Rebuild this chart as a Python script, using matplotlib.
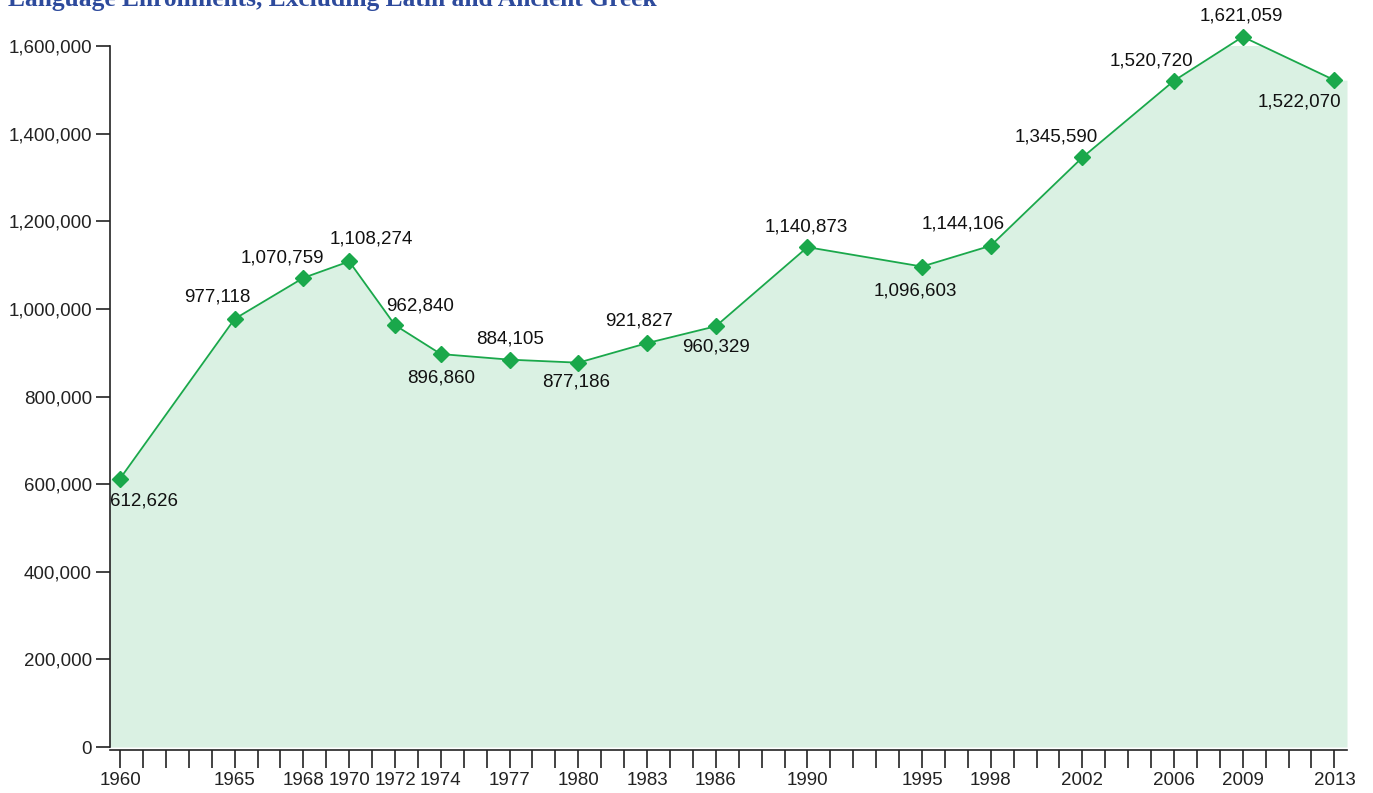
import numpy as np
import matplotlib
matplotlib.use('Agg')
import matplotlib.pyplot as plt
from matplotlib.ticker import FuncFormatter

#Data
years = [1960, 1965, 1968, 1970, 1972, 1974, 1977, 1980, 1983, 1986,
         1990, 1995, 1998, 2002, 2006, 2009, 2013]
enrollments = [612626, 977118, 1070759, 1108274, 962840, 896860, 884105, 877186,
               921827, 960329, 1140873, 1096603, 1144106, 1345590, 1520720,
               1621059, 1522070]
yticks = [0, 200000, 400000, 600000, 800000, 1000000, 1200000, 1400000, 1600000]
title = 'Language Enrollments, Excluding Latin and Ancient Greek'

#label offsets in pixels (dx, dy) relative to each point
offsets = [(24, -22), (-17, 22), (-21, 20), (22, 22), (25, 19), (0, -24), (0, 21),
           (-2, -19), (-8, 22), (0, -21), (-1, 20), (-7, -24), (-28, 22), (-26, 20),
           (-23, 20), (-1, 21), (-35, -22)]

plt.rcParams['font.family'] = ['Liberation Sans', 'DejaVu Sans']

green = '#1aa84b'
fill_col = '#daf1e3'
fs = 13.5

fig = plt.figure(figsize=(13.73, 7.93), dpi=100)
ax = fig.add_axes([110/1373, 1-747/793, (1347-110)/1373, (747-46)/793])

x0, x1 = 1959.56, 2013.55
fx = [x0] + years + [x1]
fy = [enrollments[0]] + enrollments + [enrollments[-1]]
ax.fill_between(fx, 0, fy, color=fill_col, lw=0, zorder=1)
ax.plot(years, enrollments, color=green, lw=1.3, marker='D', ms=8,
        mfc=green, mec=green, zorder=3, clip_on=False)

for x, y, (dx, dy) in zip(years, enrollments, offsets):
    ax.annotate(f'{y:,}', (x, y), xytext=(dx, dy), textcoords='offset pixels',
                ha='center', va='center', fontsize=fs, color='#111111', zorder=4,
                annotation_clip=False)

ax.set_xlim(x0, x1)
ax.set_ylim(0, 1600000)
ax.set_yticks(yticks)
ax.yaxis.set_major_formatter(FuncFormatter(lambda v, p: f'{int(v):,}'))
ax.set_xticks(years)
ax.set_xticks(np.arange(1960, 2014), minor=True)
ax.set_xticklabels([str(y) for y in years])

for s in ['top', 'right']:
    ax.spines[s].set_visible(False)
ax.spines['left'].set_linewidth(1.2)
ax.spines['bottom'].set_linewidth(1.2)
ax.spines['bottom'].set_position(('outward', 2))
ax.spines['left'].set_color('#222222')
ax.spines['bottom'].set_color('#222222')

ax.tick_params(axis='y', length=10, width=1.2, labelsize=fs, pad=3, colors='#222222')
ax.tick_params(axis='x', which='both', length=13, width=1.2, labelsize=fs, pad=3,
               colors='#222222')
ax.tick_params(axis='x', which='minor', labelbottom=False)

fig.text(8/1373, 1-6/793, title, ha='left', va='baseline', fontsize=18.4,
         fontweight='bold', color='#2d4a9c',
         family=['Liberation Serif', 'DejaVu Serif'])

plt.savefig('out.png', dpi=100)
